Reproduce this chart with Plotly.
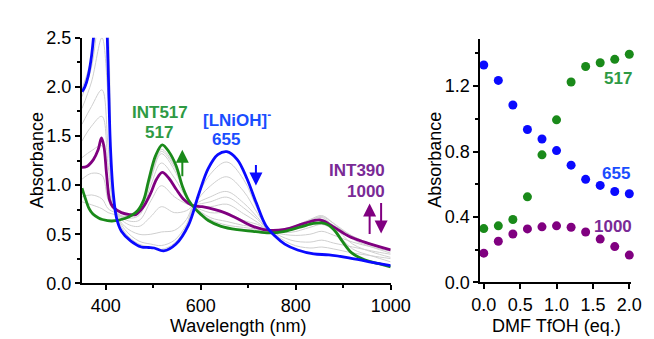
import plotly.graph_objects as go

# ---------------- data ----------------
wl_blue = [350, 356, 363, 370, 376, 390, 400, 405, 410, 416, 423, 433, 453, 475, 490, 502, 522,
           548, 574, 596, 616, 636, 655, 677, 697, 717, 737, 757, 777, 804, 838, 870, 912, 955, 1000]
abs_blue = [1.95, 2.00, 2.11, 2.31, 2.60, 3.40, 2.90, 2.21, 1.38, 0.91, 0.66, 0.53, 0.43, 0.37, 0.365, 0.36, 0.33,
            0.40, 0.59, 0.91, 1.17, 1.31, 1.34, 1.26, 1.07, 0.82, 0.59, 0.48, 0.40, 0.34, 0.30, 0.29, 0.26, 0.22, 0.18]

wl_green = [350, 356, 365, 373, 385, 393, 413, 440, 467, 480, 490, 505, 519, 533, 548, 562, 574, 590,
            601, 616, 643, 677, 710, 744, 777, 811, 838, 855, 870, 885, 898, 918, 945, 975, 1000]
abs_green = [0.97, 0.88, 0.76, 0.705, 0.665, 0.65, 0.635, 0.66, 0.74, 0.85, 1.04, 1.30, 1.41, 1.34, 1.20, 0.98, 0.85, 0.75,
             0.70, 0.64, 0.58, 0.546, 0.53, 0.514, 0.53, 0.575, 0.61, 0.615, 0.59, 0.52, 0.43, 0.31, 0.24, 0.20, 0.167]

wl_purple = [350, 360, 374, 384, 391, 396, 402, 408, 415, 433, 450, 463, 478, 494, 507, 519, 533, 548,
             565, 581, 603, 630, 650, 677, 710, 744, 777, 818, 851, 878, 912, 945, 1000]
abs_purple = [1.18, 1.19, 1.26, 1.36, 1.48, 1.40, 1.10, 0.85, 0.78, 0.72, 0.70, 0.70, 0.77, 0.91, 1.06, 1.13, 1.07, 0.96,
              0.85, 0.795, 0.78, 0.75, 0.72, 0.66, 0.58, 0.54, 0.55, 0.61, 0.645, 0.58, 0.48, 0.42, 0.34]

wl_gray = [350, 370, 392, 405, 420, 440, 470, 495, 517, 545, 570, 585, 620, 655, 690, 720, 745, 790,
           830, 855, 880, 920, 960, 1000]
gray_02 = [1.98, 2.30, 3.20, 2.60, 0.76, 0.52, 0.40, 0.37, 0.346, 0.41, 0.58, 0.79, 1.11, 1.235, 1.06, 0.75, 0.55, 0.40,
           0.36, 0.37, 0.35, 0.31, 0.28, 0.252]
gray_04 = [1.90, 2.20, 2.90, 2.30, 0.76, 0.55, 0.43, 0.40, 0.385, 0.44, 0.60, 0.79, 0.99, 1.085, 0.94, 0.71, 0.55, 0.44,
           0.42, 0.44, 0.41, 0.37, 0.33, 0.296]
gray_06 = [1.78, 2.05, 2.50, 1.90, 0.75, 0.58, 0.50, 0.50, 0.523, 0.54, 0.65, 0.79, 0.88, 0.935, 0.82, 0.67, 0.54, 0.49,
           0.50, 0.53, 0.49, 0.42, 0.37, 0.327]
gray_08 = [1.62, 1.80, 1.97, 1.40, 0.75, 0.62, 0.58, 0.68, 0.78, 0.72, 0.74, 0.79, 0.83, 0.877, 0.77, 0.65, 0.54, 0.52,
           0.57, 0.60, 0.55, 0.46, 0.39, 0.340]
gray_10 = [1.45, 1.60, 1.70, 1.20, 0.75, 0.65, 0.64, 0.84, 0.994, 0.88, 0.81, 0.79, 0.78, 0.806, 0.71, 0.62, 0.54, 0.54,
           0.61, 0.65, 0.59, 0.48, 0.40, 0.346]
gray_12 = [1.28, 1.35, 1.40, 1.00, 0.74, 0.67, 0.69, 1.00, 1.225, 1.07, 0.87, 0.79, 0.72, 0.717, 0.64, 0.60, 0.54, 0.56,
           0.64, 0.68, 0.61, 0.48, 0.40, 0.337]
gray_14 = [1.06, 1.12, 1.10, 0.85, 0.73, 0.68, 0.72, 1.06, 1.32, 1.15, 0.88, 0.79, 0.67, 0.63, 0.59, 0.57, 0.53, 0.57,
           0.65, 0.69, 0.61, 0.45, 0.37, 0.308]
gray_16 = [0.88, 0.90, 0.86, 0.76, 0.72, 0.68, 0.74, 1.08, 1.343, 1.18, 0.89, 0.78, 0.65, 0.593, 0.57, 0.55, 0.53, 0.56,
           0.64, 0.67, 0.58, 0.40, 0.32, 0.265]
gray_18 = [0.83, 0.80, 0.76, 0.72, 0.70, 0.67, 0.75, 1.10, 1.364, 1.20, 0.89, 0.78, 0.63, 0.556, 0.55, 0.54, 0.53, 0.55,
           0.62, 0.64, 0.54, 0.35, 0.28, 0.219]
gray_series = [gray_02, gray_04, gray_06, gray_08, gray_10, gray_12, gray_14, gray_16, gray_18]

eq = [0.0, 0.2, 0.4, 0.6, 0.8, 1.0, 1.2, 1.4, 1.6, 1.8, 2.0]
a517 = [0.329, 0.346, 0.385, 0.523, 0.78, 0.994, 1.225, 1.32, 1.343, 1.364, 1.395]
a655 = [1.329, 1.235, 1.085, 0.935, 0.877, 0.806, 0.717, 0.63, 0.593, 0.556, 0.542]
a1000 = [0.179, 0.252, 0.296, 0.327, 0.340, 0.346, 0.337, 0.308, 0.265, 0.219, 0.167]

left_xticks = [400, 600, 800, 1000]
left_yticks = [0.0, 0.5, 1.0, 1.5, 2.0, 2.5]
right_xticks = [0.0, 0.5, 1.0, 1.5, 2.0]
right_yticks = [0.0, 0.4, 0.8, 1.2]

# ---------------- styling ----------------
W, H = 654, 339
FONT = "Arial, Liberation Sans, sans-serif"
GREEN = "#1a8a1a"
BLUE = "#0a0aff"
PURPLE = "#800080"
GREEN_T = "#2e9a44"
BLUE_T = "#1a4dff"
PURPLE_T = "#7a2a96"
GRAY = "#cfcfcf"


def px(x):
    return x / W


def py(y):
    return 1 - y / H


fig = go.Figure()

for g in gray_series:
    fig.add_trace(go.Scatter(x=wl_gray, y=g, mode="lines", line=dict(color=GRAY, width=1, shape="spline"),
                             xaxis="x", yaxis="y", showlegend=False, hoverinfo="skip"))

fig.add_trace(go.Scatter(x=wl_purple, y=abs_purple, mode="lines",
                         line=dict(color=PURPLE, width=2.8, shape="spline"), xaxis="x", yaxis="y", showlegend=False))
fig.add_trace(go.Scatter(x=wl_green, y=abs_green, mode="lines",
                         line=dict(color=GREEN, width=2.8, shape="spline"), xaxis="x", yaxis="y", showlegend=False))
fig.add_trace(go.Scatter(x=wl_blue, y=abs_blue, mode="lines",
                         line=dict(color=BLUE, width=2.8, shape="spline"), xaxis="x", yaxis="y", showlegend=False))

fig.add_trace(go.Scatter(x=eq, y=a517, mode="markers", marker=dict(color=GREEN, size=9),
                         xaxis="x2", yaxis="y2", showlegend=False, cliponaxis=False))
fig.add_trace(go.Scatter(x=eq, y=a655, mode="markers", marker=dict(color=BLUE, size=9),
                         xaxis="x2", yaxis="y2", showlegend=False, cliponaxis=False))
fig.add_trace(go.Scatter(x=eq, y=a1000, mode="markers", marker=dict(color=PURPLE, size=9),
                         xaxis="x2", yaxis="y2", showlegend=False, cliponaxis=False))

axis_common = dict(showgrid=False, zeroline=False, showline=True, linecolor="black", linewidth=2,
                   ticks="outside", ticklen=5, tickwidth=1.5, tickcolor="black",
                   tickfont=dict(family=FONT, size=18, color="black"))

fig.update_layout(
    width=W, height=H,
    margin=dict(l=0, r=0, t=0, b=0),
    plot_bgcolor="white", paper_bgcolor="white",
    font=dict(family=FONT, color="black"),
    xaxis=dict(domain=[px(68), px(391)], range=[350, 1000], anchor="y",
               tickvals=left_xticks, ticktext=[str(v) for v in left_xticks],
               minor=dict(tickvals=[500, 700, 900], ticks="outside", ticklen=3, tickcolor="black", tickwidth=1.5),
               **axis_common),
    yaxis=dict(domain=[py(282), py(21)], range=[0, 2.5], anchor="x",
               tickvals=left_yticks, ticktext=[f"{v:.1f}" for v in left_yticks],
               minor=dict(tickvals=[0.25, 0.75, 1.25, 1.75, 2.25], ticks="outside", ticklen=3,
                          tickcolor="black", tickwidth=1.5),
               **axis_common),
    xaxis2=dict(domain=[px(485), px(643)], range=[-0.045, 2.03], anchor="y2",
                tickvals=right_xticks, ticktext=[f"{v:.1f}" for v in right_xticks],
                **axis_common),
    yaxis2=dict(domain=[py(281), py(22)], range=[0, 1.49], anchor="x2",
                tickvals=right_yticks, ticktext=[f"{v:.1f}" for v in right_yticks],
                minor=dict(tickvals=[0.2, 0.6, 1.0, 1.4], ticks="outside", ticklen=3,
                           tickcolor="black", tickwidth=1.5),
                **axis_common),
)

ann = []


def label(text, x, y, color, size=17, bold=True, angle=0):
    ann.append(dict(text=f"<b>{text}</b>" if bold else text, x=px(x), y=py(y), xref="paper", yref="paper",
                    showarrow=False, xanchor="center", yanchor="middle", textangle=angle,
                    font=dict(family=FONT, size=size, color=color)))


# axis titles
label("Absorbance", 21, 151, "black", size=18, bold=False, angle=-90)
label("Wavelength (nm)", 231, 327, "black", size=18, bold=False)
label("Absorbance", 437, 151, "black", size=18, bold=False, angle=-90)
label("DMF TfOH (eq.)", 565, 327, "black", size=18, bold=False)

# left panel labels
label("INT517", 150, 100, GREEN_T)
label("517", 149, 122, GREEN_T)
label("[LNiOH]<sup>-</sup>", 230, 107, BLUE_T)
label("655", 219, 129, BLUE_T)
label("INT390", 356, 162, PURPLE_T)
label("1000", 365, 184, PURPLE_T)

# right panel labels
label("517", 629, 64, GREEN_T)
label("655", 627, 165, BLUE_T)
label("1000", 624, 222, PURPLE_T)


def arrow(xh, yh, xt, yt, color):
    ann.append(dict(x=px(xh), y=py(yh), ax=xt - xh, ay=yt - yh, xref="paper", yref="paper",
                    axref="pixel", ayref="pixel", text="", showarrow=True,
                    arrowhead=2, arrowsize=1.3, arrowwidth=2, arrowcolor=color))


arrow(173, 140, 173, 168, GREEN)
arrow(250, 178, 250, 156, BLUE)
arrow(369, 197, 369, 229, PURPLE)
arrow(381, 229, 381, 197, PURPLE)

fig.update_layout(annotations=ann)

fig.write_html("out.html")
